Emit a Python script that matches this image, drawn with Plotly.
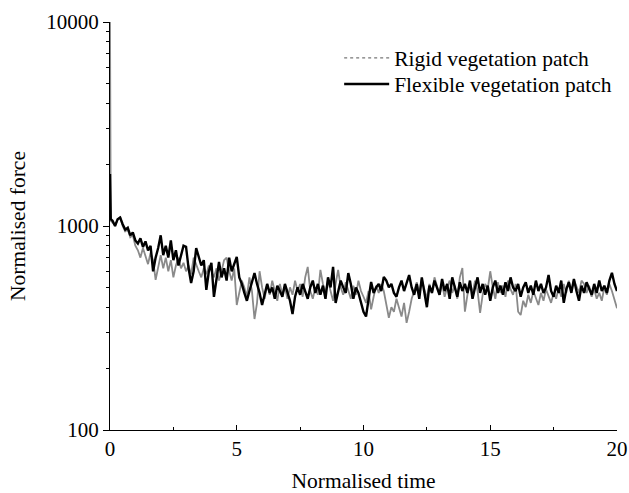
import plotly.graph_objects as go

time = [0.0, 0.03] + [round(0.1 * i, 1) for i in range(1, 201)]

flexible = [1800, 1080,
    1060, 1000, 1080, 1100, 1020, 960, 980, 900, 930, 850,
    820, 870, 790, 840, 760, 800, 600, 700, 780, 900,
    720, 800, 700, 850, 680, 760, 640, 720, 800, 790,
    620, 525, 600, 780, 700, 640, 680, 486, 600, 660,
    449, 560, 666, 560, 620, 540, 700, 600, 650, 705,
    560, 520, 470, 430, 480, 540, 588, 520, 470, 410,
    460, 520, 470, 500, 440, 510, 480, 450, 520, 470,
    430, 370, 450, 500, 460, 520, 480, 440, 500, 540,
    470, 520, 460, 510, 440, 560, 500, 630, 420, 470,
    540, 500, 470, 588, 520, 440, 500, 470, 420, 380,
    360, 450, 532, 470, 500, 520, 480, 563, 540, 500,
    520, 470, 450, 500, 540, 480, 520, 575, 500, 460,
    520, 440, 560, 480, 400, 510, 470, 540, 500, 460,
    550, 480, 520, 440, 560, 500, 450, 530, 480, 520,
    470, 540, 440, 500, 560, 470, 520, 460, 510, 430,
    500, 540, 470, 510, 460, 530, 480, 560, 500, 480,
    520, 450, 500, 530, 470, 510, 460, 540, 480, 520,
    470, 500, 575, 480, 450, 510, 470, 540, 420, 490,
    530, 470, 550, 480, 430, 510, 470, 530, 490, 460,
    520, 470, 540, 480, 510, 470, 540, 590, 520, 480]

rigid = [10000, 1060,
    1040, 1010, 1070, 1110, 1000, 940, 960, 880, 900, 800,
    760, 700, 780, 720, 650, 740, 680, 545, 640, 720,
    620, 700, 600, 680, 560, 640, 700, 620, 660, 600,
    640, 580, 700, 640, 600, 560, 620, 580, 640, 600,
    560, 620, 540, 600, 680, 700, 600, 540, 620, 410,
    470, 540, 500, 450, 560, 480, 350, 420, 600, 500,
    440, 520, 460, 540, 480, 430, 520, 460, 500, 440,
    500, 460, 540, 480, 520, 450, 560, 630, 480, 440,
    500, 460, 609, 520, 470, 540, 480, 430, 520, 609,
    500, 460, 530, 480, 440, 510, 460, 540, 480, 450,
    420, 480, 390, 450, 510, 470, 520, 480, 420, 355,
    400, 380, 440, 400, 360, 420, 335, 380, 440, 480,
    530, 470, 550, 490, 440, 520, 470, 560, 510, 460,
    520, 450, 500, 540, 470, 510, 440, 560, 622, 380,
    460, 520, 470, 540, 480, 375, 460, 520, 490, 600,
    500, 440, 530, 470, 510, 450, 540, 490, 460, 520,
    380, 366, 430, 400, 460, 420, 480, 440, 410, 470,
    430, 490, 450, 420, 470, 440, 500, 450, 520, 470,
    540, 480, 545, 500, 470, 540, 520, 470, 510, 450,
    490, 440, 470, 430, 500, 460, 520, 480, 430, 395]

x_ticks = [0, 5, 10, 15, 20]
x_minor = [2.5, 7.5, 12.5, 17.5]
y_ticks = [100, 1000, 10000]
y_tick_text = ["100", "1000", "10000"]
y_minor = [200, 300, 400, 500, 600, 700, 800, 900,
           2000, 3000, 4000, 5000, 6000, 7000, 8000, 9000]

FONT = "Liberation Serif"
GRAY = "#8a8a8a"

fig = go.Figure()
fig.add_trace(go.Scatter(x=time, y=rigid, mode="lines", showlegend=False,
                         line=dict(color=GRAY, width=1.8)))
fig.add_trace(go.Scatter(x=time, y=flexible, mode="lines", showlegend=False,
                         line=dict(color="black", width=2.4)))
fig.add_trace(go.Scatter(x=[None], y=[None], mode="lines",
                         name="Rigid vegetation patch", legend="legend",
                         line=dict(color="#777777", width=1.2, dash="dot")))
fig.add_trace(go.Scatter(x=[None], y=[None], mode="lines",
                         name="Flexible vegetation patch", legend="legend2",
                         line=dict(color="black", width=2.5)))

leg_common = dict(x=0.452, xanchor="left", yanchor="middle",
                  bgcolor="rgba(0,0,0,0)", font=dict(size=21.5),
                  itemwidth=45)

fig.update_layout(
    width=629, height=493,
    margin=dict(l=110, r=12, t=22, b=63, autoexpand=False),
    paper_bgcolor="white", plot_bgcolor="white",
    font=dict(family=FONT, size=19, color="black"),
    legend=dict(y=0.912, **leg_common),
    legend2=dict(y=0.848, **leg_common),
    xaxis=dict(range=[0, 20], tickvals=x_ticks, ticks="inside", ticklen=5,
               tickcolor="black", showline=True, linecolor="black",
               linewidth=1, showgrid=False, zeroline=False, automargin=False,
               minor=dict(tickvals=x_minor, ticks="inside", ticklen=3,
                          tickcolor="black", showgrid=False),
               title=dict(text="Normalised time", standoff=14,
                          font=dict(size=21.5)),
               tickfont=dict(size=21)),
    yaxis=dict(type="log", range=[2, 4], tickvals=y_ticks,
               ticktext=y_tick_text, ticks="outside",
               ticklen=6, tickcolor="black", showline=True, linecolor="black",
               linewidth=1, showgrid=False, zeroline=False, automargin=False,
               minor=dict(tickvals=y_minor, ticks="outside", ticklen=3,
                          tickcolor="black", showgrid=False),
               title=dict(text="Normalised force", standoff=14,
                          font=dict(size=21.5)),
               tickfont=dict(size=21)),
)

fig.write_html("out.html")
